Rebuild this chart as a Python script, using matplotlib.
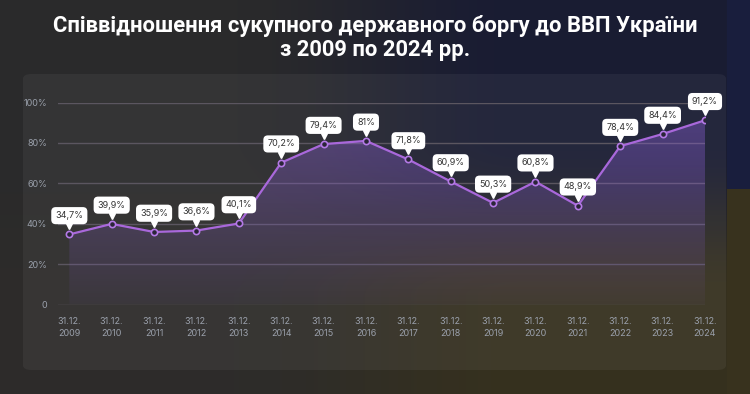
import numpy as np
import matplotlib.pyplot as plt
from matplotlib.patches import FancyBboxPatch
from matplotlib.colors import LinearSegmentedColormap
from matplotlib.transforms import ScaledTranslation

years = ['2009', '2010', '2011', '2012', '2013', '2014', '2015', '2016',
         '2017', '2018', '2019', '2020', '2021', '2022', '2023', '2024']
debt = [34.7, 39.9, 35.9, 36.6, 40.1, 70.2, 79.4, 81.0,
        71.8, 60.9, 50.3, 60.8, 48.9, 78.4, 84.4, 91.2]
labels = ['34,7%', '39,9%', '35,9%', '36,6%', '40,1%', '70,2%', '79,4%', '81%',
          '71,8%', '60,9%', '50,3%', '60,8%', '48,9%', '78,4%', '84,4%', '91,2%']
yticks = [0, 20, 40, 60, 80, 100]
ytick_labels = ['0', '20%', '40%', '60%', '80%', '100%']


def smooth(t, a, b):
    t = np.clip((t - a) / (b - a), 0, 1)
    return t * t * (3 - 2 * t)


fig = plt.figure(figsize=(7.5, 3.94), dpi=100)

# background: dark gray on the left, navy top right, olive below
bg = fig.add_axes([0, 0, 1, 1])
bg.set_axis_off()
h, w = 394, 750
yy, xx = np.mgrid[0:1:h * 1j, 0:1:w * 1j]
gray = np.array([0.165, 0.165, 0.17])
navy = np.array([0.10, 0.11, 0.20])
olive = np.array([0.21, 0.19, 0.12])
wx = smooth(xx, 0.30, 0.70)[..., None]
wy = smooth(yy, 0.35, 0.75)[..., None]
right = navy * (1 - wy) + olive * wy
left = gray * (1 - wy * 0.5) + np.array([0.19, 0.18, 0.16]) * wy * 0.5
img = left * (1 - wx) + right * wx
# flag strip on the right edge
strip = xx > 727 / 750
img[strip & (yy < 0.48)] = [0.10, 0.12, 0.24]
img[strip & (yy >= 0.48)] = [0.22, 0.20, 0.12]
bg.imshow(img, extent=[0, 1, 0, 1], aspect='auto', origin='upper')
bg.set_xlim(0, 1)
bg.set_ylim(0, 1)
card = FancyBboxPatch((23 / 750, 24 / 394), 703 / 750, 296 / 394,
                      boxstyle='round,pad=0,rounding_size=0.012',
                      fc=(1, 1, 1, 0.05), ec='none', transform=bg.transAxes)
bg.add_patch(card)

fig.text(0.5, 0.935, 'Співвідношення сукупного державного боргу до ВВП України',
         ha='center', va='center', color='white', fontsize=15.8,
         family='Roboto', weight='bold')
fig.text(0.5, 0.873, 'з 2009 по 2024 рр.', ha='center', va='center',
         color='white', fontsize=15.8, family='Roboto', weight='bold')

ax = fig.add_axes([58 / 750, 89.5 / 394, 647 / 750, 202 / 394])
ax.set_facecolor('none')
x = np.arange(len(years))
ax.set_xlim(-0.267, len(years) - 1)
ax.set_ylim(0, 100)

for v in yticks:
    ax.axhline(v, color='#5b5660', lw=1, zorder=1)

poly = ax.fill_between(x, debt, 0, color='none', lw=0)
cmap = LinearSegmentedColormap.from_list(
    'fade', [(0.55, 0.38, 0.85, 0.05), (0.55, 0.38, 0.85, 0.45)])
grad = np.linspace(0, 1, 256).reshape(-1, 1)
im = ax.imshow(grad, extent=[0, len(years) - 1, 0, 100], aspect='auto',
               origin='lower', cmap=cmap, zorder=2)
im.set_clip_path(poly.get_paths()[0], transform=ax.transData)

ax.plot(x, debt, color='#a968db', lw=1.6, zorder=3)
ax.plot(x, debt, 'o', ms=4.5, mfc='#2a2538', mec='#b47ae6', mew=1.2, zorder=4)

tri = ax.transData + ScaledTranslation(0, 8 / 100, fig.dpi_scale_trans)
ax.plot(x, debt, 'v', ms=5, color='white', transform=tri, zorder=5,
        clip_on=False)
for xi, v, lab in zip(x, debt, labels):
    ax.annotate(lab, (xi, v), xytext=(0, 13.5), textcoords='offset points',
                ha='center', va='center', fontsize=6.5, color='#333333',
                family='Inter',
                bbox=dict(boxstyle='round,pad=0.45,rounding_size=0.5',
                          fc='white', ec='none'),
                zorder=6, annotation_clip=False)

for s in ax.spines.values():
    s.set_visible(False)
ax.set_yticks(yticks)
ax.set_yticklabels(ytick_labels)
ax.set_xticks(x)
ax.set_xticklabels(['31.12.\n' + y for y in years], linespacing=1.5)
ax.tick_params(length=0, colors='#9aa0ab', labelsize=6.5)
for t in ax.get_xticklabels() + ax.get_yticklabels():
    t.set_family('Inter')
ax.tick_params(axis='y', pad=8)
ax.tick_params(axis='x', pad=9)

fig.savefig('out.png', dpi=100)
